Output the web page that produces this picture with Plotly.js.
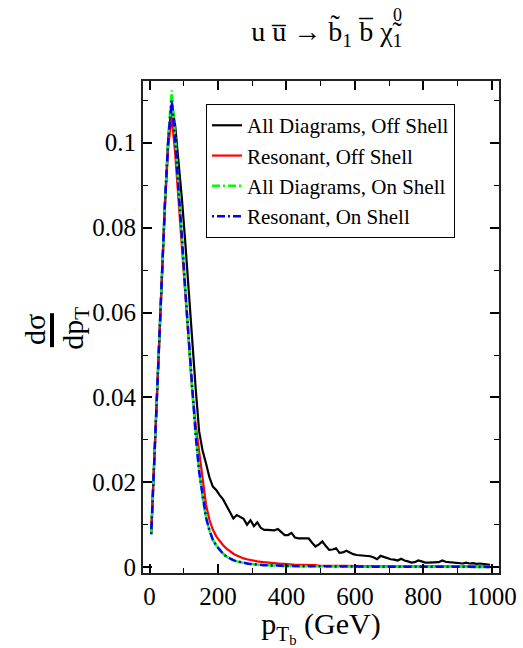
<!DOCTYPE html>
<html>
<head>
<meta charset="utf-8">
<script src="https://cdn.plot.ly/plotly-3.0.1.min.js"></script>
<style>
html,body{margin:0;padding:0;background:#fff;}
</style>
</head>
<body>
<div id="chart"></div>
<script>
// bin centres, p_T of b (GeV)
const ptBins = [5,15,25,35,45,55,65,75,85,95,105,115,125,135,145,155,165,175,185,195,
  205,215,225,235,245,255,265,275,285,295,305,315,325,335,345,355,365,375,385,395,
  405,415,425,435,445,455,465,475,485,495,505,515,525,535,545,555,565,575,585,595,
  605,615,625,635,645,655,665,675,685,695,705,715,725,735,745,755,765,775,785,795,
  805,815,825,835,845,855,865,875,885,895,905,915,925,935,945,955,965,975,985,995];

const allOffShell = [0.0080,0.0275,0.0470,0.0660,0.0855,0.1010,0.1090,0.1040,0.0960,0.0865,
  0.0760,0.0640,0.0520,0.0420,0.0320,0.0275,0.0245,0.0212,0.0190,0.0182,
  0.0170,0.0160,0.0145,0.0130,0.0115,0.0123,0.0118,0.0114,0.0100,0.0111,
  0.0097,0.0106,0.0093,0.0088,0.0088,0.0088,0.0087,0.0090,0.0082,0.0076,
  0.0076,0.0081,0.0070,0.0068,0.0068,0.0068,0.0068,0.0058,0.0049,0.0054,
  0.0061,0.0050,0.0041,0.0042,0.0045,0.0034,0.0035,0.0039,0.0035,0.0031,
  0.0029,0.0028,0.0028,0.0027,0.0026,0.0023,0.0019,0.0027,0.0024,0.0021,
  0.0019,0.0018,0.0016,0.0020,0.0016,0.0014,0.0011,0.0012,0.0016,0.0014,
  0.0011,0.0011,0.0011,0.0012,0.0012,0.0016,0.0013,0.0012,0.0011,0.0010,
  0.0010,0.0009,0.0011,0.0009,0.0010,0.0008,0.0009,0.0008,0.0007,0.0006];

const resOffShell = [0.0080,0.0275,0.0470,0.0660,0.0850,0.0995,0.1060,0.0975,0.0865,0.0750,
  0.0635,0.0520,0.0415,0.0335,0.0270,0.0205,0.0148,0.0112,0.0089,0.0073,
  0.0062,0.0052,0.0044,0.0037,0.0032,0.0028,0.0024,0.0021,0.0019,0.0017,
  0.0015,0.0014,0.0013,0.0012,0.0011,0.0010,0.0010,0.0009,0.0008,0.0008,
  0.0007,0.0007,0.0006,0.0006,0.0006,0.0005,0.0005,0.0005,0.0005,0.0004,
  0.0004,0.0004,0.0004,0.0004,0.0004,0.0003,0.0003,0.0003,0.0003,0.0003,
  0.0003,0.0003,0.0003,0.0003,0.0003,0.00025,0.00025,0.00025,0.00025,0.00025,
  0.00025,0.0002,0.0002,0.0002,0.0002,0.0002,0.0002,0.0002,0.0002,0.0002,
  0.0002,0.0002,0.0002,0.0002,0.0002,0.0002,0.0002,0.0002,0.0002,0.0002,
  0.0002,0.0002,0.0002,0.0002,0.0002,0.0002,0.0002,0.0002,0.0002,0.0002];

const allOnShell = [0.0078,0.0275,0.0470,0.0660,0.0855,0.1020,0.1123,0.1015,0.0900,0.0780,
  0.0650,0.0530,0.0410,0.0310,0.0225,0.0165,0.0118,0.0087,0.0065,0.0051,
  0.0041,0.0032,0.0025,0.0020,0.0017,0.0014,0.0012,0.0011,0.0009,0.0008,
  0.0007,0.0006,0.0006,0.0005,0.0005,0.0004,0.0004,0.0004,0.0003,0.0003,
  0.0003,0.0003,0.0003,0.00025,0.00025,0.0002,0.0002,0.0002,0.0002,0.0002,
  0.00018,0.00018,0.00018,0.00017,0.00017,0.00016,0.00016,0.00015,0.00015,0.00015,
  0.00014,0.00014,0.00014,0.00013,0.00013,0.00013,0.00012,0.00012,0.00012,0.00012,
  0.00011,0.00011,0.00011,0.00011,0.00011,0.0001,0.0001,0.0001,0.0001,0.0001,
  0.0001,0.0001,0.0001,0.0001,0.0001,0.0001,0.0001,0.0001,0.0001,0.0001,
  0.0001,0.0001,0.0001,0.0001,0.0001,0.0001,0.0001,0.0001,0.0001,0.0001];

const resOnShell = [0.0078,0.0275,0.0470,0.0660,0.0855,0.1010,0.1100,0.1005,0.0895,0.0775,
  0.0648,0.0528,0.0410,0.0310,0.0225,0.0165,0.0118,0.0087,0.0065,0.0051,
  0.0041,0.0032,0.0025,0.0020,0.0017,0.0014,0.0012,0.0011,0.0009,0.0008,
  0.0007,0.0006,0.0006,0.0005,0.0005,0.0004,0.0004,0.0004,0.0003,0.0003,
  0.0003,0.0003,0.0003,0.00025,0.00025,0.0002,0.0002,0.0002,0.0002,0.0002,
  0.00018,0.00018,0.00018,0.00017,0.00017,0.00016,0.00016,0.00015,0.00015,0.00015,
  0.00014,0.00014,0.00014,0.00013,0.00013,0.00013,0.00012,0.00012,0.00012,0.00012,
  0.00011,0.00011,0.00011,0.00011,0.00011,0.0001,0.0001,0.0001,0.0001,0.0001,
  0.0001,0.0001,0.0001,0.0001,0.0001,0.0001,0.0001,0.0001,0.0001,0.0001,
  0.0001,0.0001,0.0001,0.0001,0.0001,0.0001,0.0001,0.0001,0.0001,0.0001];

const seriesNames = ['All Diagrams, Off Shell','Resonant, Off Shell','All Diagrams, On Shell','Resonant, On Shell'];
const xTickVals = [0,200,400,600,800,1000];
const yTickVals = [0,0.02,0.04,0.06,0.08,0.1];
const yTickText = ['0','0.02','0.04','0.06','0.08','0.1'];

const FONT = 'Liberation Serif, Times New Roman, serif';

const traces = [
  {x: ptBins, y: allOffShell, name: seriesNames[0], mode: 'lines', line: {color: '#000000', width: 2.2}},
  {x: ptBins, y: resOffShell, name: seriesNames[1], mode: 'lines', line: {color: '#ff0000', width: 2.2}},
  {x: ptBins, y: allOnShell, name: seriesNames[2], mode: 'lines', line: {color: '#00ff00', width: 2.5, dash: '8px,3px,2px,3px'}},
  {x: ptBins, y: resOnShell, name: seriesNames[3], mode: 'lines', line: {color: '#0000ff', width: 2.5, dash: '2px,3px,8px,3px'}}
];

const layout = {
  width: 523, height: 648,
  margin: {l: 143, r: 24, t: 81, b: 75},
  paper_bgcolor: '#ffffff', plot_bgcolor: '#ffffff',
  font: {family: FONT, color: '#000000', size: 22},
  title: {
    text: 'u u\u0305 \u2192 b\u0303<sub>1</sub> b\u0305 \u03c7\u0303<sub>1</sub>',
    font: {family: FONT, size: 28, color: '#000000'},
    x: 0.625, xref: 'container', xanchor: 'center',
    y: 0.952, yref: 'container', yanchor: 'middle'
  },
  showlegend: true,
  legend: {
    x: 0.177, y: 0.953, xanchor: 'left', yanchor: 'top',
    bgcolor: '#ffffff', bordercolor: '#000000', borderwidth: 1,
    font: {family: FONT, size: 21, color: '#000000'},
    itemwidth: 30, tracegroupgap: 0
  },
  xaxis: {
    range: [-19, 1021],
    tickmode: 'array', tickvals: xTickVals,
    ticks: 'inside', ticklen: 9, tickwidth: 1.5, tickcolor: '#000000',
    minor: {dtick: 100, tick0: 0, ticks: 'inside', ticklen: 5, tickwidth: 1.2, tickcolor: '#000000'},
    showline: true, linewidth: 2, linecolor: '#222222', mirror: 'ticks',
    showgrid: false, zeroline: false,
    tickfont: {family: FONT, size: 25, color: '#000000'},
    title: {text: 'p<sub>T<sub>b</sub></sub> (GeV)', font: {family: FONT, size: 30, color: '#000000'}, standoff: 7}
  },
  yaxis: {
    range: [-0.00134, 0.11453],
    tickmode: 'array', tickvals: yTickVals, ticktext: yTickText,
    ticks: 'inside', ticklen: 9, tickwidth: 1.5, tickcolor: '#000000',
    minor: {dtick: 0.01, tick0: 0, ticks: 'inside', ticklen: 5, tickwidth: 1.2, tickcolor: '#000000'},
    showline: true, linewidth: 2, linecolor: '#222222', mirror: 'ticks',
    showgrid: false, zeroline: false,
    tickfont: {family: FONT, size: 25, color: '#000000'}
  },
  annotations: [
    {text: '0', xref: 'paper', yref: 'paper', x: 0.716, y: 1.135, xanchor: 'center', yanchor: 'middle',
     showarrow: false, font: {family: FONT, size: 18, color: '#000000'}},
    {text: 'd\u03c3', xref: 'paper', yref: 'paper', x: -0.303, y: 0.494, xanchor: 'center', yanchor: 'middle',
     textangle: -90, showarrow: false, font: {family: FONT, size: 30, color: '#000000'}},
    {text: 'dp<sub>T</sub>', xref: 'paper', yref: 'paper', x: -0.19, y: 0.497, xanchor: 'center', yanchor: 'middle',
     textangle: -90, showarrow: false, font: {family: FONT, size: 30, color: '#000000'}}
  ],
  shapes: [
    {type: 'line', xref: 'paper', yref: 'paper', x0: -0.2556, x1: -0.2556, y0: 0.459, y1: 0.528,
     line: {color: '#000000', width: 4}}
  ]
};

Plotly.newPlot('chart', traces, layout, {displayModeBar: false});
</script>
</body>
</html>
